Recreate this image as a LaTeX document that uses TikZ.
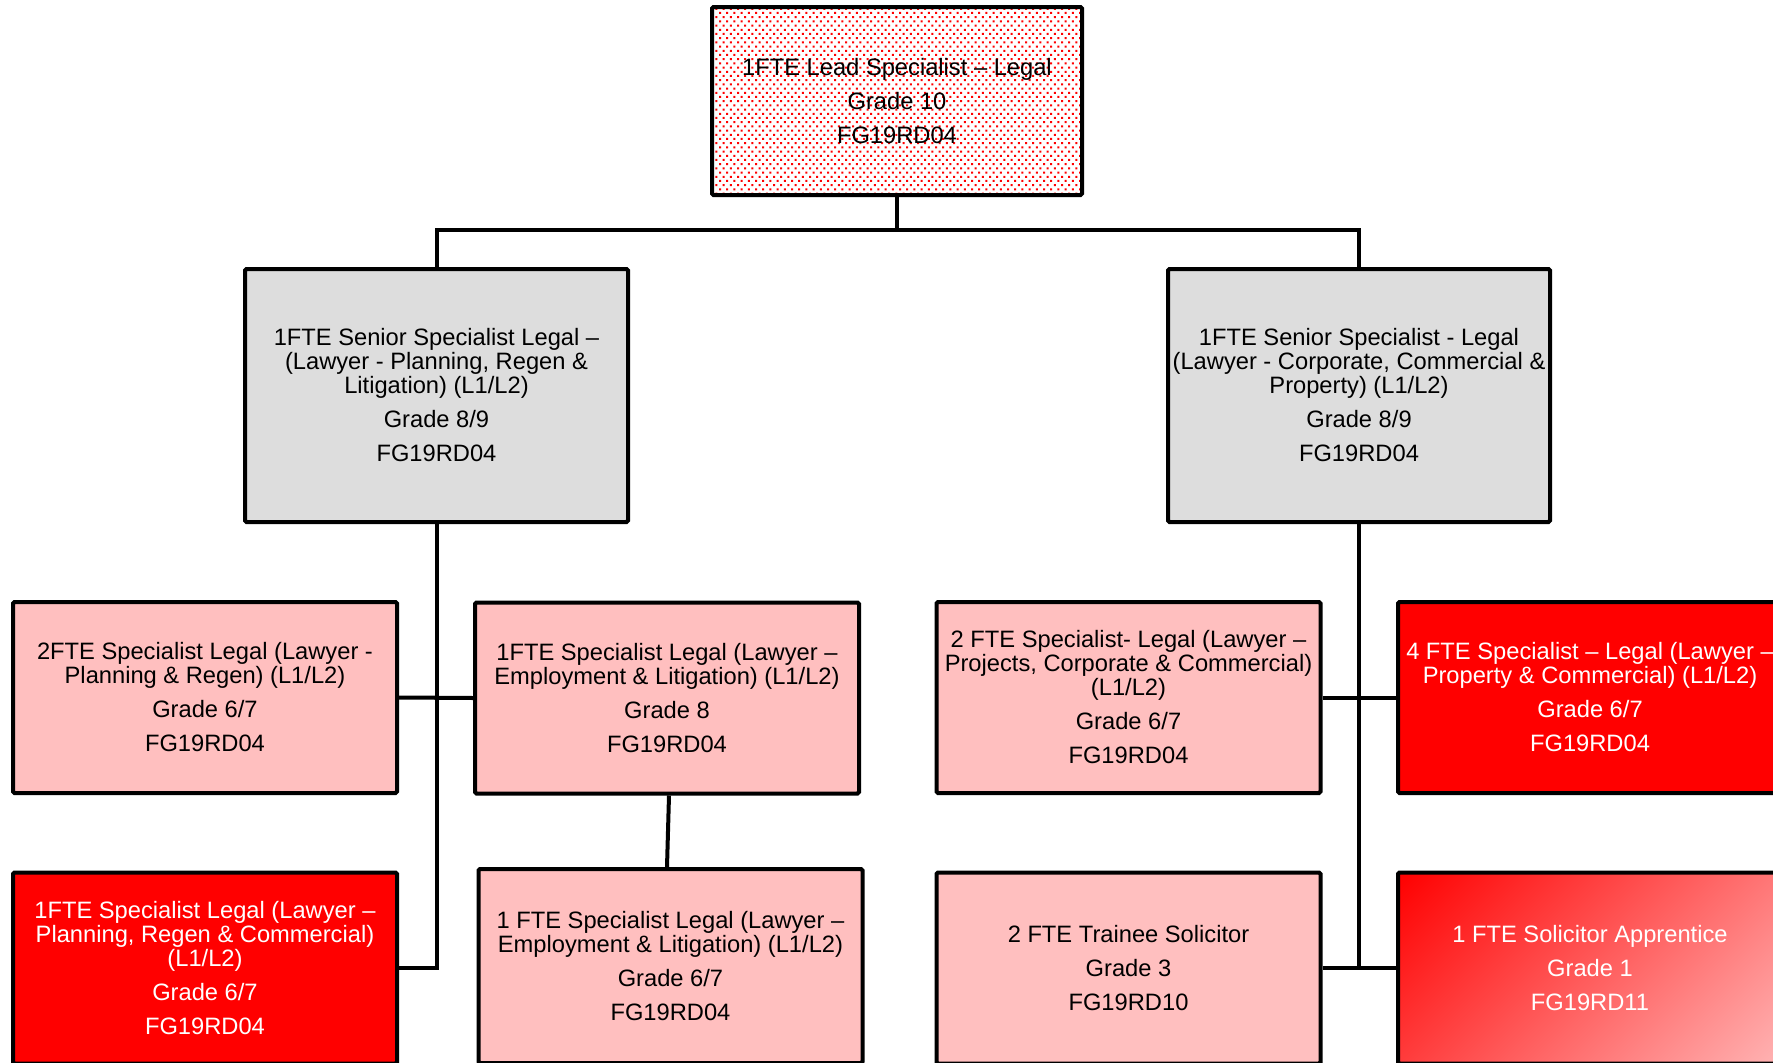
\documentclass[tikz,border=0pt]{standalone}
\usepackage{fontspec}
\setmainfont{Liberation Sans}
\usetikzlibrary{patterns}
\pgfdeclarepatternformonly{reddots}{\pgfqpoint{-1pt}{-1pt}}{\pgfqpoint{4.6pt}{5.2pt}}{\pgfqpoint{7.2pt}{8.4pt}}{%
  \pgfpathrectangle{\pgfqpoint{-1pt}{-1pt}}{\pgfqpoint{2pt}{2pt}}%
  \pgfpathrectangle{\pgfqpoint{2.6pt}{3.2pt}}{\pgfqpoint{2pt}{2pt}}%
  \pgfusepath{fill}}
\definecolor{pinkbox}{HTML}{FFBFBF}
\definecolor{greybox}{HTML}{DDDDDD}
\definecolor{redbox}{HTML}{FF0000}
\definecolor{lightred}{HTML}{FFB4B4}
\pgfdeclareverticalshading{apprshade}{100bp}{color(0bp)=(lightred); color(14.6bp)=(lightred); color(85.4bp)=(redbox); color(100bp)=(redbox)}
\begin{document}
\begin{tikzpicture}[x=1pt,y=-1pt,
  orgbox/.style={draw=black, line width=4pt, rectangle, rounded corners=1.5pt,
    inner sep=0pt, align=center, font=\fontsize{23.7}{24}\selectfont,
    minimum width=384pt, minimum height=191pt},
  pinkfill/.style={fill=pinkbox},
  redfill/.style={fill=redbox, text=white},
  link/.style={line width=4pt, draw=black}]
\path[use as bounding box] (0,0) rectangle (1773,1063);
\clip (0,0) rectangle (1773,1063);

% level 1
\node[orgbox, pattern=reddots, pattern color=red, minimum width=370pt, minimum height=188pt]
  (lead) at (897,101) {1FTE Lead Specialist – Legal\\[10pt]Grade 10\\[10pt]FG19RD04};

% level 2
\node[orgbox, fill=greybox, minimum width=383pt, minimum height=253pt] (srL) at (436.5,395.5)
  {1FTE Senior Specialist Legal –\\(Lawyer - Planning, Regen \&\\Litigation) (L1/L2)\\[10pt]Grade 8/9\\[10pt]FG19RD04};
\node[orgbox, fill=greybox, minimum width=382pt, minimum height=253pt] (srR) at (1359,395.5)
  {1FTE Senior Specialist - Legal\\(Lawyer - Corporate, Commercial \&\\Property) (L1/L2)\\[10pt]Grade 8/9\\[10pt]FG19RD04};

% level 3
\node[orgbox, pinkfill] (plan) at (205,697.5)
  {2FTE Specialist Legal (Lawyer -\\Planning \& Regen) (L1/L2)\\[10pt]Grade 6/7\\[10pt]FG19RD04};
\node[orgbox, pinkfill] (emp1) at (667,698)
  {1FTE Specialist Legal (Lawyer –\\Employment \& Litigation) (L1/L2)\\[10pt]Grade 8\\[10pt]FG19RD04};
\node[orgbox, pinkfill] (proj) at (1128.5,697.5)
  {2 FTE Specialist- Legal (Lawyer –\\Projects, Corporate \& Commercial)\\(L1/L2)\\[10pt]Grade 6/7\\[10pt]FG19RD04};
\node[orgbox, redfill] (prop) at (1590,697.5)
  {4 FTE Specialist – Legal (Lawyer –\\Property \& Commercial) (L1/L2)\\[10pt]Grade 6/7\\[10pt]FG19RD04};

% level 4
\node[orgbox, redfill] (plancom) at (205,968)
  {1FTE Specialist Legal (Lawyer –\\Planning, Regen \& Commercial)\\(L1/L2)\\[10pt]Grade 6/7\\[10pt]FG19RD04};
\node[orgbox, pinkfill, minimum height=194pt] (emp2) at (670.5,966)
  {1 FTE Specialist Legal (Lawyer –\\Employment \& Litigation) (L1/L2)\\[10pt]Grade 6/7\\[10pt]FG19RD04};
\node[orgbox, pinkfill] (trainee) at (1128.5,968)
  {2 FTE Trainee Solicitor\\[10pt]Grade 3\\[10pt]FG19RD10};
\node[orgbox, shading=apprshade, shading angle=45, text=white] (appr) at (1590,968)
  {1 FTE Solicitor Apprentice\\[10pt]Grade 1\\[10pt]FG19RD11};

% connectors
\coordinate (busy) at (0,230);
\draw[link] (lead.south) -- (lead.south |- busy);
\draw[link] (srL.north) -- (srL.north |- busy) -| (srR.north);
\draw[link] (srL.south) |- (plancom.east);
\draw[link] (plan.east) -- (emp1.west);
\draw[link] ([xshift=2pt]emp1.south) -- ([xshift=-3.5pt]emp2.north);
\draw[link] (srR.south) |- (trainee.east);
\draw[link] (proj.east) -- (prop.west);
\draw[link] (trainee.east) -- (appr.west);
\end{tikzpicture}
\end{document}
